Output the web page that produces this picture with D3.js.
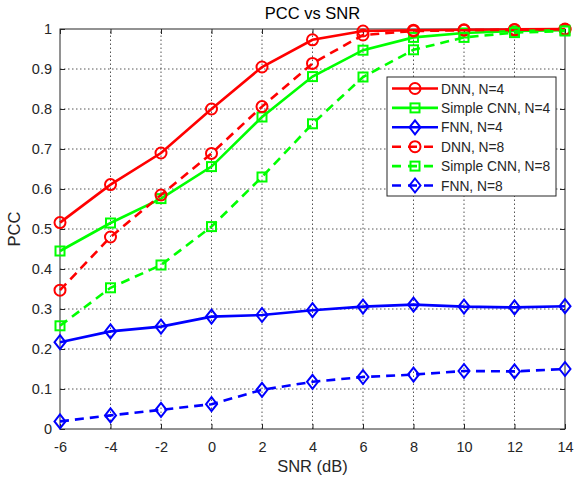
<!DOCTYPE html>
<html>
<head>
<meta charset="utf-8">
<script src="https://cdn.jsdelivr.net/npm/d3@7"></script>
<style>
  body { margin: 0; background: #fff; }
  text { font-family: "Liberation Sans", Arial, sans-serif; }
</style>
</head>
<body>
<svg width="574" height="480"></svg>
<script>
// values
var snr = [-6, -4, -2, 0, 2, 4, 6, 8, 10, 12, 14];
var dnn4 = [0.516, 0.611, 0.69, 0.80, 0.905, 0.973, 0.995, 0.997, 0.998, 0.999, 1.0];
var cnn4 = [0.445, 0.515, 0.576, 0.656, 0.780, 0.881, 0.947, 0.979, 0.990, 0.995, 0.997];
var fnn4 = [0.217, 0.244, 0.256, 0.281, 0.285, 0.297, 0.306, 0.311, 0.306, 0.304, 0.307];
var dnn8 = [0.347, 0.480, 0.585, 0.689, 0.806, 0.914, 0.985, 0.995, 0.997, 0.998, 0.999];
var cnn8 = [0.258, 0.353, 0.410, 0.506, 0.630, 0.763, 0.880, 0.948, 0.979, 0.991, 0.995];
var fnn8 = [0.019, 0.034, 0.048, 0.062, 0.098, 0.118, 0.130, 0.136, 0.145, 0.144, 0.150];
var xTicks = [-6, -4, -2, 0, 2, 4, 6, 8, 10, 12, 14];
var yTicks = [0, 0.1, 0.2, 0.3, 0.4, 0.5, 0.6, 0.7, 0.8, 0.9, 1];

var series = [
  {name: "DNN, N=4", vals: dnn4, color: "#ff0000", dash: null, marker: "circle"},
  {name: "Simple CNN, N=4", vals: cnn4, color: "#00ff00", dash: null, marker: "square"},
  {name: "FNN, N=4", vals: fnn4, color: "#0000ff", dash: null, marker: "diamond"},
  {name: "DNN, N=8", vals: dnn8, color: "#ff0000", dash: "9,6", marker: "circle"},
  {name: "Simple CNN, N=8", vals: cnn8, color: "#00ff00", dash: "9,6", marker: "square"},
  {name: "FNN, N=8", vals: fnn8, color: "#0000ff", dash: "9,6", marker: "diamond"}
];

var svg = d3.select("svg"),
  m = {left: 60, right: 9, top: 29, bottom: 51},
  W = +svg.attr("width"), H = +svg.attr("height");

var x = d3.scaleLinear().domain([-6, 14]).range([m.left, W - m.right]);
var y = d3.scaleLinear().domain([0, 1]).range([H - m.bottom, m.top]);

var axisColor = "#262626";
var fmt = d => String(d); // plain hyphen minus, like the original

// grid
var g = svg.append("g");
g.selectAll(".gx").data(xTicks.slice(1, -1)).enter().append("line")
  .attr("x1", d => x(d)).attr("x2", d => x(d))
  .attr("y1", y(0)).attr("y2", y(1))
  .attr("stroke", "#555").attr("stroke-width", 1).attr("stroke-dasharray", "1.5,2.5");
g.selectAll(".gy").data(yTicks.slice(1, -1)).enter().append("line")
  .attr("y1", d => y(d)).attr("y2", d => y(d))
  .attr("x1", x(-6)).attr("x2", x(14))
  .attr("stroke", "#555").attr("stroke-width", 1).attr("stroke-dasharray", "1.5,2.5");

// axes
svg.append("g").attr("transform", "translate(0," + y(0) + ")")
  .call(d3.axisBottom(x).tickValues(xTicks).tickSize(-5).tickPadding(13).tickFormat(fmt))
  .call(a => a.select(".domain").remove());
svg.append("g").attr("transform", "translate(0," + y(1) + ")")
  .call(d3.axisTop(x).tickValues(xTicks).tickSize(-5).tickFormat(""))
  .call(a => a.select(".domain").remove());
svg.append("g").attr("transform", "translate(" + x(-6) + ",0)")
  .call(d3.axisLeft(y).tickValues(yTicks).tickSize(-5).tickPadding(8).tickFormat(fmt))
  .call(a => a.select(".domain").remove());
svg.append("g").attr("transform", "translate(" + x(14) + ",0)")
  .call(d3.axisRight(y).tickValues(yTicks).tickSize(-5).tickFormat(""))
  .call(a => a.select(".domain").remove());
svg.selectAll(".tick line").attr("stroke", axisColor);
svg.selectAll(".tick text").attr("fill", axisColor).style("font-size", "14.5px");

svg.append("rect")
  .attr("x", x(-6)).attr("y", y(1))
  .attr("width", x(14) - x(-6)).attr("height", y(0) - y(1))
  .attr("fill", "none").attr("stroke", axisColor).attr("stroke-width", 1);

// markers
function drawMarker(sel, type, color) {
  if (type === "circle") {
    sel.append("circle").attr("r", 5.5);
  } else if (type === "square") {
    sel.append("rect").attr("x", -4.5).attr("y", -4.5).attr("width", 9).attr("height", 9);
  } else {
    sel.append("path").attr("d", "M0,-7L5.5,0L0,7L-5.5,0Z");
  }
  sel.selectAll("*").attr("fill", "none").attr("stroke", color).attr("stroke-width", 2);
}

var line = d3.line().x((d, i) => x(snr[i])).y(d => y(d));

series.forEach(function(s) {
  svg.append("path").datum(s.vals)
    .attr("d", line)
    .attr("fill", "none").attr("stroke", s.color).attr("stroke-width", 2.6)
    .attr("stroke-dasharray", s.dash);
  svg.append("g").selectAll("g").data(s.vals).enter().append("g")
    .attr("transform", (d, i) => "translate(" + x(snr[i]) + "," + y(d) + ")")
    .each(function() { drawMarker(d3.select(this), s.marker, s.color); });
});

// legend
var lg = svg.append("g").attr("transform", "translate(387,77)");
lg.append("rect").attr("width", 169).attr("height", 119)
  .attr("fill", "#fff").attr("stroke", axisColor).attr("stroke-width", 1);
series.forEach(function(s, i) {
  var row = lg.append("g").attr("transform", "translate(0," + (11.5 + i * 19.4) + ")");
  row.append("line").attr("x1", 5).attr("x2", 51).attr("y1", 0).attr("y2", 0)
    .attr("stroke", s.color).attr("stroke-width", 2.6).attr("stroke-dasharray", s.dash ? "9,7" : null);
  drawMarker(row.append("g").attr("transform", "translate(28,0)"), s.marker, s.color);
  row.append("text").attr("x", 54).attr("y", 5).text(s.name)
    .style("font-size", "13.8px").attr("fill", axisColor);
});

// titles
svg.append("text").attr("x", (x(-6) + x(14)) / 2).attr("y", 19)
  .attr("text-anchor", "middle").style("font-size", "16.5px").attr("fill", "#000")
  .text("PCC vs SNR");
svg.append("text").attr("x", (x(-6) + x(14)) / 2).attr("y", 472)
  .attr("text-anchor", "middle").style("font-size", "16.5px").attr("fill", axisColor)
  .text("SNR (dB)");
svg.append("text").attr("transform", "translate(20," + ((y(0) + y(1)) / 2) + ") rotate(-90)")
  .attr("text-anchor", "middle").style("font-size", "16.5px").attr("fill", axisColor)
  .text("PCC");
</script>
</body>
</html>
